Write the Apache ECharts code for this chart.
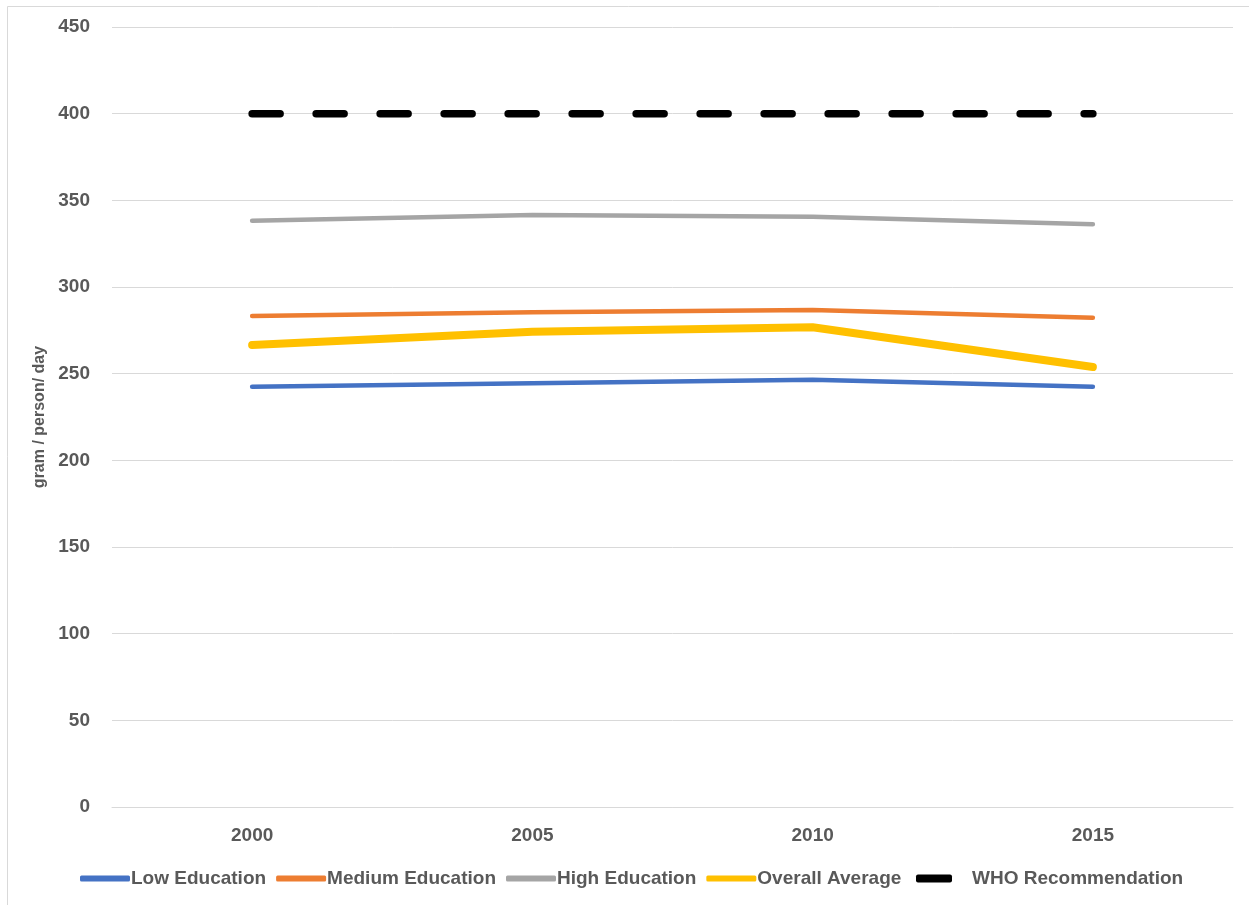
<!DOCTYPE html>
<html>
<head>
<meta charset="utf-8">
<script src="https://cdn.jsdelivr.net/npm/echarts@6/dist/echarts.min.js"></script>
<style>
html,body{margin:0;padding:0;background:#fff;}
#chart{width:1249px;height:905px;}
</style>
</head>
<body>
<div id="chart"></div>
<script>
const years = ['2000', '2005', '2010', '2015'];
const lowEducation = [242.5, 244.5, 246.5, 242.5];
const mediumEducation = [283.3, 285.5, 286.8, 282.3];
const highEducation = [338.2, 341.5, 340.5, 336.2];
const overallAverage = [266.5, 274.2, 276.8, 253.8];
const whoRecommendation = [400, 400, 400, 400];
const yTicks = {min: 0, max: 450, interval: 50};

const textColor = '#595959';
const fontFamily = '"Liberation Sans", Arial, sans-serif';

const chart = echarts.init(document.getElementById('chart'));
chart.setOption({
  animation: false,
  backgroundColor: '#ffffff',
  graphic: [{
    type: 'rect',
    shape: {x: 7.5, y: 6.5, width: 1400, height: 1000},
    style: {fill: 'none', stroke: '#d9d9d9', lineWidth: 1},
    silent: true,
    z: -1
  }],
  grid: {left: 112, right: 16, top: 27, bottom: 98},
  legend: [{
    left: 75, top: 864,
    icon: 'roundRect',
    itemWidth: 50, itemHeight: 6, itemGap: 10,
    textStyle: {color: textColor, fontFamily: fontFamily, fontWeight: 'bold', fontSize: 19, padding: [0, 0, 0, -4]},
    data: ['Low Education', 'Medium Education', 'High Education', 'Overall Average']
  }, {
    left: 911, top: 864,
    icon: 'roundRect',
    itemWidth: 36, itemHeight: 8,
    textStyle: {color: textColor, fontFamily: fontFamily, fontWeight: 'bold', fontSize: 19, padding: [0, 0, 0, 15]},
    data: ['WHO Recommendation']
  }],
  xAxis: {
    type: 'category',
    data: years,
    boundaryGap: true,
    axisLine: {show: true, lineStyle: {color: '#d9d9d9', width: 1}},
    axisTick: {show: false},
    axisLabel: {color: textColor, fontFamily: fontFamily, fontWeight: 'bold', fontSize: 19, margin: 19}
  },
  yAxis: {
    type: 'value',
    min: yTicks.min, max: yTicks.max, interval: yTicks.interval,
    name: 'gram / person/ day',
    nameLocation: 'middle',
    nameGap: 58,
    nameTextStyle: {color: textColor, fontFamily: fontFamily, fontWeight: 'bold', fontSize: 16},
    axisLine: {show: false},
    axisTick: {show: false},
    axisLabel: {color: textColor, fontFamily: fontFamily, fontWeight: 'bold', fontSize: 19, margin: 22},
    splitLine: {lineStyle: {color: '#d9d9d9', width: 1}}
  },
  series: [
    {name: 'Low Education', type: 'line', data: lowEducation, symbol: 'none', color: '#4472C4',
     lineStyle: {width: 4.5, cap: 'round', join: 'round'}},
    {name: 'Medium Education', type: 'line', data: mediumEducation, symbol: 'none', color: '#ED7D31',
     lineStyle: {width: 4.5, cap: 'round', join: 'round'}},
    {name: 'High Education', type: 'line', data: highEducation, symbol: 'none', color: '#A5A5A5',
     lineStyle: {width: 4.5, cap: 'round', join: 'round'}},
    {name: 'Overall Average', type: 'line', data: overallAverage, symbol: 'none', color: '#FFC000',
     lineStyle: {width: 8, cap: 'round', join: 'round'}},
    {name: 'WHO Recommendation', type: 'line', data: whoRecommendation, symbol: 'none', color: '#000000',
     lineStyle: {width: 7.5, cap: 'round', type: [28, 36]}}
  ]
});
</script>
</body>
</html>
